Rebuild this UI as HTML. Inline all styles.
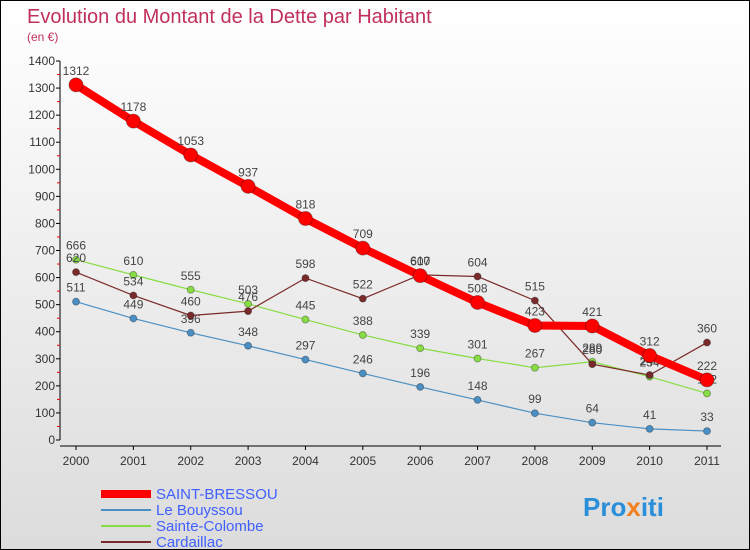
<!DOCTYPE html>
<html><head><meta charset="utf-8"><style>
body{margin:0}
#c{width:750px;height:550px;position:relative;overflow:hidden;background:linear-gradient(#ffffff,#dcdcdc);border:1px solid #000;box-sizing:border-box;font-family:"Liberation Sans",sans-serif}
</style></head><body>
<div id="c">
<svg id="s" width="750" height="550" xmlns="http://www.w3.org/2000/svg">
<text x="26" y="22" font-size="20" fill="#c0305a">Evolution du Montant de la Dette par Habitant</text>
<text x="26" y="40" font-size="12" fill="#c0305a">(en €)</text>
<g id="axes"></g><g id="series"></g>
<g>
<line x1="100" y1="493" x2="150" y2="493" stroke="#f00" stroke-width="8"/>
<text x="155" y="498" font-size="15" fill="#4060ff">SAINT-BRESSOU</text>
<line x1="100" y1="509" x2="150" y2="509" stroke="#4a8fc4" stroke-width="2"/>
<text x="155" y="514" font-size="15" fill="#4060ff">Le Bouyssou</text>
<line x1="100" y1="525" x2="150" y2="525" stroke="#88dd44" stroke-width="2"/>
<text x="155" y="530" font-size="15" fill="#4060ff">Sainte-Colombe</text>
<line x1="100" y1="541" x2="150" y2="541" stroke="#7a2a2a" stroke-width="2"/>
<text x="155" y="546" font-size="15" fill="#4060ff">Cardaillac</text>
</g>
<text x="582" y="515" font-size="26" font-weight="bold" fill="#2a8fd8">Pro<tspan fill="#f08020">x</tspan>iti</text>
</svg>
</div>
<script>
const years=[2000,2001,2002,2003,2004,2005,2006,2007,2008,2009,2010,2011];
const yTicks=[0,100,200,300,400,500,600,700,800,900,1000,1100,1200,1300,1400];
const saintBressou=[1312,1178,1053,937,818,709,607,508,423,421,312,222];
const leBouyssou=[511,449,396,348,297,246,196,148,99,64,41,33];
const sainteColombe=[666,610,555,503,445,388,339,301,267,289,234,172];
const cardaillac=[620,534,460,476,598,522,610,604,515,280,240,360];
const NS="http://www.w3.org/2000/svg";
const X=i=>75+i*(706-75)/11;
const Y=v=>439-v*(379/1400);
function mk(t,a,p){const e=document.createElementNS(NS,t);for(const k in a)e.setAttribute(k,a[k]);p.appendChild(e);return e;}
const ax=document.getElementById('axes');
const yl=mk('line',{x1:59,y1:Y(0),x2:59,y2:Y(1400),stroke:'#000'},ax);


const xl=mk('line',{x1:59,y1:Y(0)+6,x2:720,y2:Y(0)+6,stroke:'#000'},ax);


yTicks.forEach(v=>{
 mk('line',{x1:55,y1:Y(v),x2:59,y2:Y(v),stroke:'#000'},ax);
 if(v<1400)mk('line',{x1:56,y1:Y(v+50),x2:59,y2:Y(v+50),stroke:'#e00'},ax);
 const t=mk('text',{x:54,y:Y(v)+4,'font-size':12,fill:'#333','text-anchor':'end'},ax);t.textContent=v;
 
 
});
years.forEach((y,i)=>{
 mk('line',{x1:X(i),y1:Y(0)+6,x2:X(i),y2:Y(0)+10,stroke:'#000'},ax);
 const t=mk('text',{x:X(i),y:Y(0)+25,'font-size':12,fill:'#333','text-anchor':'middle'},ax);t.textContent=y;
 
 
});
const sg=document.getElementById('series');
function draw(vals,color,w,r,name){
 const g=mk('g',{},sg);
 
 
 const l=mk('polyline',{points:vals.map((v,i)=>X(i)+','+Y(v)).join(' '),fill:'none',stroke:color,'stroke-width':w},g);
 
 
 vals.forEach((v,i)=>{
  const c=mk('circle',{cx:X(i),cy:Y(v),r:r,fill:color,stroke:'rgba(0,0,0,0.3)'},g);
  
  
  const t=mk('text',{x:X(i),y:Y(v)-10,'font-size':12,fill:'#444','text-anchor':'middle'},g);t.textContent=v;
  
  
 });
}
draw(leBouyssou,'#4a8fc4',1.2,3.5,'le-bouyssou');
draw(sainteColombe,'#88dd44',1.2,3.5,'sainte-colombe');
draw(cardaillac,'#7a2a2a',1.2,3.5,'cardaillac');
draw(saintBressou,'#ff0000',8,7,'saint-bressou');
</script>
</body></html>
